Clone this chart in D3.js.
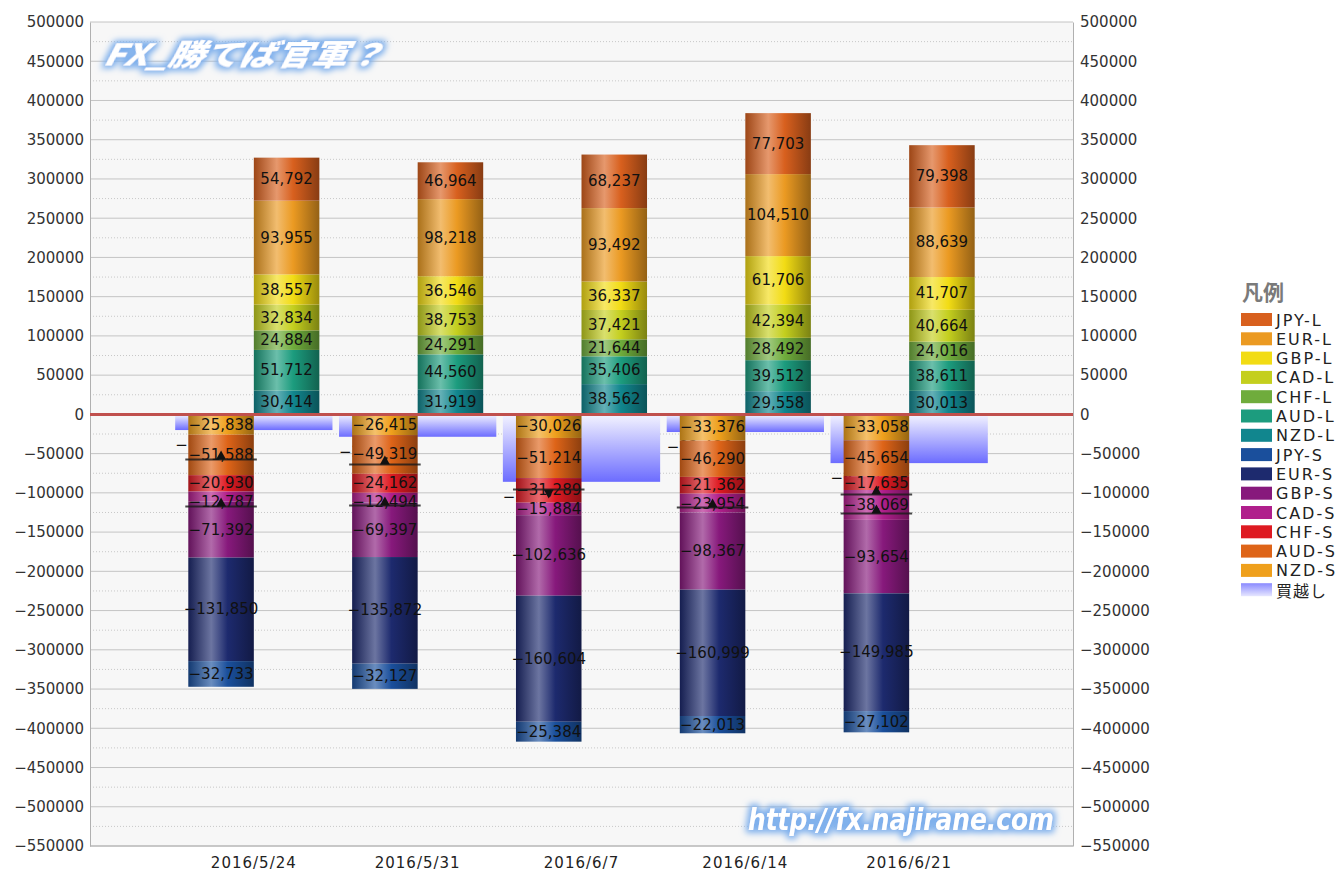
<!DOCTYPE html>
<html>
<head>
<meta charset="utf-8">
<script src="https://cdn.jsdelivr.net/npm/d3@7"></script>
<style>
  html,body{margin:0;padding:0;background:#fff;}
  svg{display:block;}
</style>
</head>
<body>
<svg id="chart" width="1338" height="872"></svg>
<script>
// ---------- DATA ----------
const dates = ["2016/5/24","2016/5/31","2016/6/7","2016/6/14","2016/6/21"];

// long positions (stacked upward from zero, bottom first)
const NZD_L = [30414, 31919, 38562, 29558, 30013];
const AUD_L = [51712, 44560, 35406, 39512, 38611];
const CHF_L = [24884, 24291, 21644, 28492, 24016];
const CAD_L = [32834, 38753, 37421, 42394, 40664];
const GBP_L = [38557, 36546, 36337, 61706, 41707];
const EUR_L = [93955, 98218, 93492, 104510, 88639];
const JPY_L = [54792, 46964, 68237, 77703, 79398];

// short positions (stacked downward from zero, top first)
const NZD_S = [-25838, -26415, -30026, -33376, -33058];
const AUD_S = [-51588, -49319, -51214, -46290, -45654];
const CHF_S = [-20930, -24162, -31289, -21362, -17635];
const CAD_S = [-12787, -12494, -15884, -23954, -38069];
const GBP_S = [-71392, -69397, -102636, -98367, -93654];
const EUR_S = [-131850, -135872, -160604, -160999, -149985];
const JPY_S = [-32733, -32127, -25384, -22013, -27102];

// net (買越し)
const NET = [-19970, -28535, -85938, -22486, -62109];

// marker lines (value, direction) seen on the short bars
const markerValues = [[-57400, -117300], [-63800, -116100], [-95700], [-118600], [-102000, -126300]];
const markerDirs   = [["up","up"], ["up","up"], ["down"], ["up"], ["up","up"]];

const yTicks = d3.range(-550000, 500001, 50000);

const seriesData = {
  "JPY-L": JPY_L, "EUR-L": EUR_L, "GBP-L": GBP_L, "CAD-L": CAD_L, "CHF-L": CHF_L, "AUD-L": AUD_L, "NZD-L": NZD_L,
  "JPY-S": JPY_S, "EUR-S": EUR_S, "GBP-S": GBP_S, "CAD-S": CAD_S, "CHF-S": CHF_S, "AUD-S": AUD_S, "NZD-S": NZD_S
};
const longKeys  = ["NZD-L","AUD-L","CHF-L","CAD-L","GBP-L","EUR-L","JPY-L"];
const shortKeys = ["NZD-S","AUD-S","CHF-S","CAD-S","GBP-S","EUR-S","JPY-S"];
const legendKeys = ["JPY-L","EUR-L","GBP-L","CAD-L","CHF-L","AUD-L","NZD-L",
                    "JPY-S","EUR-S","GBP-S","CAD-S","CHF-S","AUD-S","NZD-S"];
const colors = {
  "JPY-L":"#d8601e", "EUR-L":"#eb9a22", "GBP-L":"#f2dc14", "CAD-L":"#c4cf1e", "CHF-L":"#6fac3c",
  "AUD-L":"#1c9c7e", "NZD-L":"#11868e",
  "JPY-S":"#1a4f9c", "EUR-S":"#1d2a6e", "GBP-S":"#87197c", "CAD-S":"#b01f8c", "CHF-S":"#de1a22",
  "AUD-S":"#de6418", "NZD-S":"#efa01c"
};

// ---------- SETUP ----------
const svg = d3.select("#chart");
const L = 90, R = 1073, T = 22, B = 846;
const x = d3.scaleLinear().domain([0, dates.length + 1]).range([L, R]);
const y = d3.scaleLinear().domain([-550000, 500000]).range([B, T]);
const step = x(1) - x(0);
const barW = step * 0.4;
const netW = step * 0.96;

const defs = svg.append("defs");
Object.entries(colors).forEach(([k, c]) => {
  const g = defs.append("linearGradient").attr("id", "g-" + k).attr("x1", "0").attr("x2", "1").attr("y1", "0").attr("y2", "0");
  const base = d3.color(c);
  g.append("stop").attr("offset", "0%").attr("stop-color", base.darker(0.9));
  g.append("stop").attr("offset", "35%").attr("stop-color", d3.interpolateRgb(c, "#ffffff")(0.35));
  g.append("stop").attr("offset", "60%").attr("stop-color", c);
  g.append("stop").attr("offset", "100%").attr("stop-color", base.darker(1.3));
});
const ng = defs.append("linearGradient").attr("id", "g-net").attr("x1", "0").attr("x2", "0").attr("y1", "0").attr("y2", "1");
ng.append("stop").attr("offset", "0%").attr("stop-color", "#f4f4ff");
ng.append("stop").attr("offset", "100%").attr("stop-color", "#6c6cff");
const lg = defs.append("linearGradient").attr("id", "g-netleg").attr("x1", "0").attr("x2", "0").attr("y1", "0").attr("y2", "1");
lg.append("stop").attr("offset", "0%").attr("stop-color", "#8a8aff");
lg.append("stop").attr("offset", "100%").attr("stop-color", "#e6e6ff");

// glow filter
const f = defs.append("filter").attr("id", "glow").attr("x", "-5%").attr("y", "-30%").attr("width", "110%").attr("height", "160%");
f.append("feMorphology").attr("in", "SourceAlpha").attr("operator", "dilate").attr("radius", 2.5).attr("result", "d");
f.append("feGaussianBlur").attr("in", "d").attr("stdDeviation", 3).attr("result", "b");
f.append("feFlood").attr("flood-color", "#7fb0ec").attr("result", "c");
f.append("feComposite").attr("in", "c").attr("in2", "b").attr("operator", "in").attr("result", "s");
const fm = f.append("feMerge");
fm.append("feMergeNode").attr("in", "s");
fm.append("feMergeNode").attr("in", "SourceGraphic");

// plot background
svg.append("rect").attr("x", L).attr("y", T).attr("width", R - L).attr("height", B - T).attr("fill", "#f7f7f7");

// grid
const grid = svg.append("g");
grid.selectAll("line.minor").data(yTicks.filter(v => v + 25000 <= 500000).map(v => v + 25000)).join("line")
  .attr("x1", L).attr("x2", R).attr("y1", d => y(d)).attr("y2", d => y(d))
  .attr("stroke", "#c8c8c8").attr("stroke-width", 1).attr("stroke-dasharray", "1,2");
grid.selectAll("line.major").data(yTicks).join("line")
  .attr("x1", L).attr("x2", R).attr("y1", d => y(d)).attr("y2", d => y(d))
  .attr("stroke", "#c4c4c4").attr("stroke-width", 1);

// axes
const fmtTick = d3.format("d");
const axL = svg.append("g").attr("transform", `translate(${L},0)`)
  .call(d3.axisLeft(y).tickValues(yTicks).tickFormat(fmtTick).tickSize(0).tickPadding(6));
const axR = svg.append("g").attr("transform", `translate(${R},0)`)
  .call(d3.axisRight(y).tickValues(yTicks).tickFormat(fmtTick).tickSize(0).tickPadding(7));
[axL, axR].forEach(a => {
  a.select(".domain").attr("stroke", "#b0b0b0");
  a.selectAll("text").attr("font-family", "DejaVu Sans, sans-serif").attr("font-size", 15).attr("fill", "#333");
});
svg.append("line").attr("x1", L).attr("x2", R).attr("y1", B).attr("y2", B).attr("stroke", "#b0b0b0");

// x labels
svg.append("g").selectAll("text").data(dates).join("text")
  .attr("x", (d, i) => x(i + 1)).attr("y", 868).attr("text-anchor", "middle")
  .attr("font-family", "DejaVu Sans, sans-serif").attr("font-size", 15).attr("letter-spacing", 1)
  .attr("fill", "#222").text(d => d);

// net bars
const fmt = d3.format(",");
svg.append("g").selectAll("rect").data(NET).join("rect")
  .attr("x", (d, i) => x(i + 1) - netW / 2).attr("width", netW)
  .attr("y", d => y(Math.max(0, d))).attr("height", d => Math.abs(y(d) - y(0)))
  .attr("fill", "url(#g-net)");
svg.append("g").selectAll("text").data(NET).join("text")
  .attr("x", (d, i) => x(i + 1) - netW / 2).attr("y", d => y(d) + 15)
  .attr("dominant-baseline", "central")
  .attr("font-family", "DejaVu Sans, sans-serif").attr("font-size", 15).attr("fill", "#111")
  .text(d => fmt(d));

// stacked bars
const rows = dates.map((d, i) => {
  const r = { date: d, i };
  Object.keys(seriesData).forEach(k => r[k] = seriesData[k][i]);
  return r;
});
const stackL = d3.stack().keys(longKeys).offset(d3.stackOffsetDiverging)(rows);
const stackS = d3.stack().keys(shortKeys).offset(d3.stackOffsetDiverging)(rows);

function drawStack(stack, dx) {
  const g = svg.append("g");
  stack.forEach(s => {
    g.selectAll(null).data(s).join("rect")
      .attr("x", d => x(d.data.i + 1) + dx).attr("width", barW)
      .attr("y", d => y(Math.max(d[0], d[1]))).attr("height", d => Math.abs(y(d[0]) - y(d[1])))
      .attr("fill", `url(#g-${s.key})`);
  });
}
drawStack(stackL, 0);
drawStack(stackS, -barW);

// value labels with simple collision avoidance (pushed away from zero)
function drawLabels(stack, dx, dir) {
  const g = svg.append("g");
  const minSep = 19;
  dates.forEach((dt, i) => {
    let prev = null;
    stack.forEach(s => {
      const d = s[i];
      let yy = y((d[0] + d[1]) / 2);
      if (prev !== null) {
        if (dir > 0 && yy - prev < minSep) yy = prev + minSep;
        if (dir < 0 && prev - yy < minSep) yy = prev - minSep;
      }
      prev = yy;
      g.append("text")
        .attr("x", x(i + 1) + dx + barW / 2).attr("y", yy)
        .attr("text-anchor", "middle").attr("dominant-baseline", "central")
        .attr("font-family", "DejaVu Sans, sans-serif").attr("font-size", 15).attr("fill", "#111")
        .text(fmt(d.data[s.key]));
    });
  });
}
drawLabels(stackL, 0, -1);
drawLabels(stackS, -barW, 1);

// markers
const mk = svg.append("g");
markerValues.forEach((vals, i) => {
  vals.forEach((v, j) => {
    const cx = x(i + 1) - barW / 2;
    const yy = y(v);
    mk.append("line").attr("x1", x(i + 1) - barW - 3).attr("x2", x(i + 1) + 3)
      .attr("y1", yy).attr("y2", yy).attr("stroke", "#1a1a1a").attr("stroke-width", 2).attr("opacity", 0.8);
    const up = markerDirs[i][j] === "up";
    const pts = up ? [[cx - 5, yy], [cx + 5, yy], [cx, yy - 9]] : [[cx - 5, yy], [cx + 5, yy], [cx, yy + 9]];
    mk.append("path").attr("d", d3.line()(pts) + "Z").attr("fill", "#111");
  });
});

// zero line
svg.append("line").attr("x1", L).attr("x2", R).attr("y1", y(0)).attr("y2", y(0))
  .attr("stroke", "#c0504d").attr("stroke-width", 3);

// legend
const leg = svg.append("g");
leg.append("text").attr("x", 1242).attr("y", 300).attr("font-family", "Noto Sans CJK JP, sans-serif")
  .attr("font-weight", "bold").attr("font-size", 21).attr("fill", "#7a7a7a").text("凡例");
const legItems = legendKeys.concat(["買越し"]);
legItems.forEach((k, i) => {
  const yy = 313 + i * 19.3;
  leg.append("rect").attr("x", 1241).attr("y", yy).attr("width", 31).attr("height", 13)
    .attr("fill", k === "買越し" ? "url(#g-netleg)" : colors[k]);
  leg.append("text").attr("x", 1276).attr("y", yy + 7).attr("dominant-baseline", "central")
    .attr("font-family", k === "買越し" ? "Noto Sans CJK JP, sans-serif" : "DejaVu Sans, sans-serif")
    .attr("font-size", 16).attr("letter-spacing", k === "買越し" ? 1 : 2).attr("fill", "#222").text(k);
});

// title & watermark
svg.append("text").attr("x", 104).attr("y", 66)
  .attr("font-family", "Noto Sans CJK JP, sans-serif").attr("font-weight", 900).attr("font-style", "italic")
  .attr("font-size", 30).attr("fill", "#ffffff").attr("filter", "url(#glow)")
  .attr("textLength", 280).attr("lengthAdjust", "spacingAndGlyphs")
  .attr("transform", "skewX(-12) translate(12,0)")
  .text("FX_勝てば官軍？");
svg.append("text").attr("x", 748).attr("y", 830)
  .attr("font-family", "DejaVu Sans, sans-serif").attr("font-weight", "bold").attr("font-style", "italic")
  .attr("font-size", 30).attr("fill", "#ffffff").attr("filter", "url(#glow)")
  .attr("textLength", 306).attr("lengthAdjust", "spacingAndGlyphs")
  .text("http://fx.najirane.com");
</script>
</body>
</html>
